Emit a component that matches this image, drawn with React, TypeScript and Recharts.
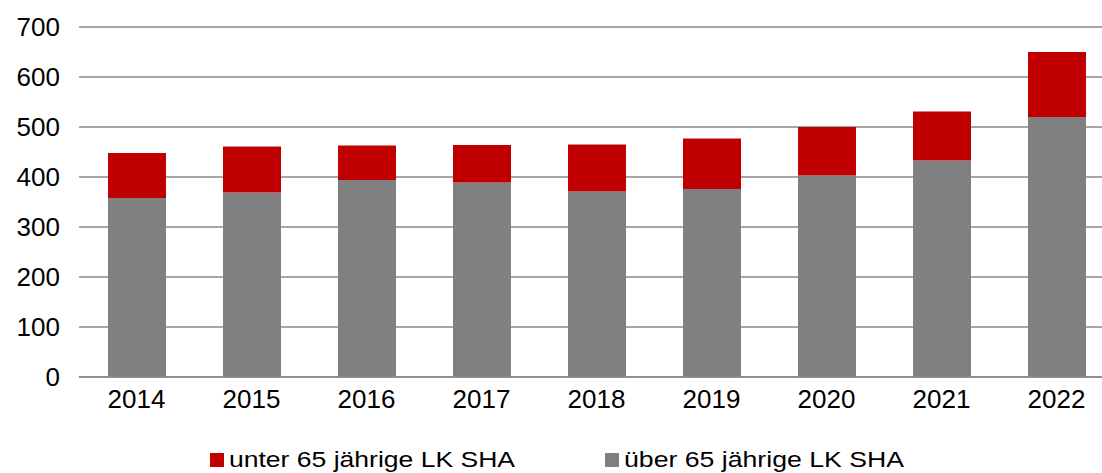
import React from "react";
import { BarChart, Bar, XAxis, YAxis, CartesianGrid, Legend } from "recharts";

const years = ["2014", "2015", "2016", "2017", "2018", "2019", "2020", "2021", "2022"];
const ueber65 = [358, 369, 394, 389, 371, 376, 403, 433, 520];
const unter65 = [90, 92, 69, 75, 94, 101, 97, 98, 130];
const yTicks = [0, 100, 200, 300, 400, 500, 600, 700];

const seriesNames = {
  unter: "unter 65 jährige LK SHA",
  ueber: "über 65 jährige LK SHA",
};
const colors = { unter: "#C00000", ueber: "#808080" };

const data = years.map((y, i) => ({ year: y, ueber: ueber65[i], unter: unter65[i] }));

const FONT = "'Liberation Sans', Arial, sans-serif";

const legendItems = [
  { key: "unter" as const, sx: 210, tx: 229, tw: 286 },
  { key: "ueber" as const, sx: 605, tx: 624, tw: 280 },
];

const renderLegend = () => (
  <svg width={1114} height={26} style={{ display: "block", overflow: "visible" }}>
    {legendItems.map((it) => (
      <g key={it.key}>
        <rect x={it.sx} y={6} width={14} height={14} fill={colors[it.key]} />
        <text
          x={it.tx}
          y={20}
          fontFamily={FONT}
          fontSize={22.4}
          fill="#000"
          textLength={it.tw}
          lengthAdjust="spacingAndGlyphs"
        >
          {seriesNames[it.key]}
        </text>
      </g>
    ))}
  </svg>
);

export default function App() {
  return (
    <div style={{ position: "absolute", left: 0, top: 0, width: 1102, height: 473, overflow: "hidden", background: "#fff" }}>
      <BarChart
        width={1114}
        height={473}
        data={data}
        margin={{ top: 27, right: 0, bottom: 0, left: 0 }}
        barSize={58}
      >
        <CartesianGrid horizontal vertical={false} stroke="#888888" strokeWidth={1.5} />
        <XAxis
          dataKey="year"
          height={70}
          tickSize={0}
          tickMargin={13}
          axisLine={{ stroke: "#888888", strokeWidth: 1.5 }}
          tick={{ fill: "#000", fontSize: 26, fontFamily: FONT }}
        />
        <YAxis
          width={79}
          domain={[0, 700]}
          ticks={yTicks}
          tickSize={0}
          tickMargin={19}
          axisLine={false}
          tick={{ fill: "#000", fontSize: 26, fontFamily: FONT }}
        />
        <Legend verticalAlign="bottom" content={renderLegend} />
        <Bar dataKey="ueber" stackId="a" fill={colors.ueber} isAnimationActive={false} name={seriesNames.ueber} />
        <Bar dataKey="unter" stackId="a" fill={colors.unter} isAnimationActive={false} name={seriesNames.unter} />
      </BarChart>
    </div>
  );
}
